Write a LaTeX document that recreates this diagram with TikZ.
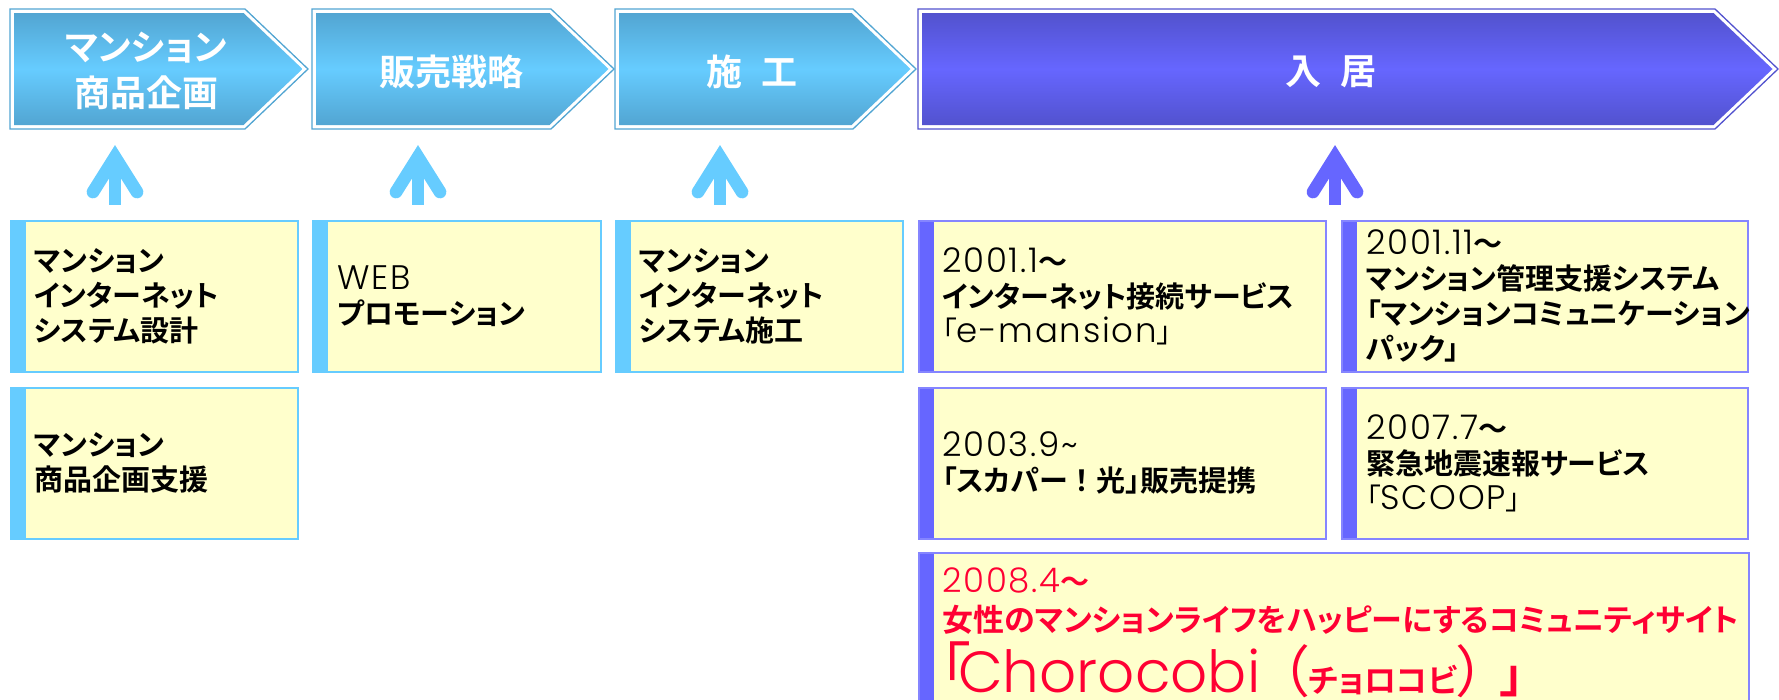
\documentclass[tikz,border=0pt]{standalone}
\usepackage{fontspec}
\usepackage{tikz}
\setmainfont{Noto Sans CJK JP}
\newfontfamily\jpbold[CharacterWidth=AlternateProportional]{Noto Sans CJK JP Bold}
\newfontfamily\jpfull{Noto Sans CJK JP Bold}
\newfontfamily\jpthin[CharacterWidth=AlternateProportional]{Noto Sans CJK JP}
\newfontfamily\latthin[LetterSpace=5]{Poppins Light}
\newfontfamily\latbig{Poppins Light}
\usetikzlibrary{calc}

\definecolor{sky}{HTML}{66CCFF}
\definecolor{skydeep}{HTML}{52A5D2}
\definecolor{violetfill}{HTML}{6666FF}
\definecolor{violetdeep}{HTML}{5252CE}
\definecolor{memoyellow}{HTML}{FFFFCC}
\definecolor{chorored}{HTML}{FF0033}

\newcommand\lat[1]{{\latthin\fontsize{34}{35}\selectfont #1}}
\def\stage[#1/#2](#3:#4){%
	\draw[#2, line width=1.3pt] (#3,9) -- (#4,9) -- ({#4+63},69) -- (#4,129) -- (#3,129) -- cycle;
	\shade[top color=#2, bottom color=#2, middle color=#1] ({#3+4},13) -- ({#4-1.5},13) -- ({#4+57.5},69) -- ({#4-1.5},125) -- ({#3+4},125) -- cycle;}

\tikzset{
	memo/.style={draw=#1, fill=memoyellow, line width=1.5pt, inner sep=0pt, minimum height=151pt, anchor=north west,
		path picture={\fill[#1] (path picture bounding box.south west) rectangle ([xshift=15pt]path picture bounding box.north west);}},
	memotext/.style={font=\jpbold\fontsize{29}{35}\selectfont, align=left, inner sep=0pt, anchor=west},
	stagetext/.style={font=\jpbold\fontsize{36}{46}\selectfont, text=white, align=center, inner sep=0pt},
	upmark/.style={line width=12.7pt, line cap=round, line join=miter},
}

\begin{document}
\begin{tikzpicture}[x=1pt, y=-1pt]
	%%%%% START %%%%%
	\useasboundingbox (0,0) rectangle (1779,699);
	
	\stage[sky/skydeep](10:245)
	\stage[sky/skydeep](312:551)
	\stage[sky/skydeep](615:853)
	\stage[violetfill/violetdeep](918:1715)
	
	\node[stagetext] (plan) at (146,71) {マンション\\商品企画};
	\node[stagetext] (sales) at (451,72) {販売戦略};
	\node[stagetext] (build) at (752,72) {施\hspace{20pt}工};
	\node[stagetext] (livein) at (1331,72) {入\hspace{20pt}居};
	
	\foreach \n/\x/\c in {1/115/sky, 2/418/sky, 3/720/sky, 4/1335/violetfill} {
		\coordinate (foot\n) at (\x,205);
		\coordinate (head\n) at (\x,157);
		\fill[\c] (foot\n) ++(-6,0) rectangle ++(12,-40);
		\draw[upmark, \c] ([shift={(-22,35)}]head\n) -- (head\n) -- ++(22,35);
	}
	
	% blue memos
	\node[memo=sky, minimum width=287pt] (sysdesign) at (10,220) {};
	\node[memo=sky, minimum width=287pt] (plansupport) at (10,387) {};
	\node[memo=sky, minimum width=288pt] (webpromo) at (312,220) {};
	\node[memo=sky, minimum width=287pt] (sysbuild) at (615,220) {};
	
	\node[memotext] (sysdesigntext) at ([xshift=24pt]sysdesign.west) {マンション\\インターネット\\システム設計};
	\node[memotext] (plansupporttext) at ([xshift=24pt]plansupport.west) {マンション\\商品企画支援};
	\node[memotext] (webpromotext) at ([xshift=25pt]webpromo.west) {\lat{WEB}\\プロモーション};
	\node[memotext] (sysbuildtext) at ([xshift=24pt]sysbuild.west) {マンション\\インターネット\\システム施工};
	
	% violet memos
	\node[memo=violetfill, draw=violetfill!80, minimum width=407pt] (emansion) at (918,220) {};
	\node[memo=violetfill, draw=violetfill!80, minimum width=406pt] (commpack) at (1341,220) {};
	\node[memo=violetfill, draw=violetfill!80, minimum width=407pt] (skyperfect) at (918,387) {};
	\node[memo=violetfill, draw=violetfill!80, minimum width=406pt] (scoop) at (1341,387) {};
	\node[memo=violetfill, draw=violetfill!80, minimum width=830pt, minimum height=160pt] (choro) at (918,552) {};
	
	\node[memotext] (emansiontext) at ([xshift=24pt]emansion.west) {\lat{2001.1}〜\\インターネット接続サービス\\{\jpthin 「}\lat{e-mansion}{\jpthin 」}};
	\node[memotext] (commpacktext) at ([xshift=25pt]commpack.west) {\lat{2001.11}〜\\マンション管理支援システム\\「マンションコミュニケーション\\パック」};
	\node[memotext] (skyperfecttext) at ([xshift=24pt]skyperfect.west) {\lat{2003.9\textasciitilde}\\「スカパー{\jpfull ！}光」販売提携};
	\node[memotext] (scooptext) at ([xshift=25pt]scoop.west) {\lat{2007.7}〜\\緊急地震速報サービス\\{\jpthin 「}\lat{SCOOP}{\jpthin 」}};
	
	\node[anchor=base west, inner sep=0pt, text=chorored, font=\jpbold\fontsize{29}{35}\selectfont] (chorodate) at (942,592) {\lat{2008.4}〜};
	\node[anchor=base west, inner sep=0pt, text=chorored, font=\jpbold\fontsize{31}{38}\selectfont] (chorolead) at (942,631) {女性のマンションライフをハッピーにするコミュニティサイト};
	\node[anchor=base west, inner sep=0pt, text=chorored, font=\jpbold\fontsize{32}{40}\selectfont] (choroname) at (940,692) {{\jpthin\fontsize{60}{60}\selectfont 「}\hspace{-12pt}{\latbig\fontsize{58}{60}\selectfont Chorocobi}\hspace{20pt}{\jpthin\fontsize{56}{56}\selectfont （}チョロコビ{\jpthin\fontsize{56}{56}\selectfont ）}\hspace{15pt}{\fontsize{48}{48}\selectfont 」}};
	
	%%%%% END %%%%%
\end{tikzpicture}
\end{document}
